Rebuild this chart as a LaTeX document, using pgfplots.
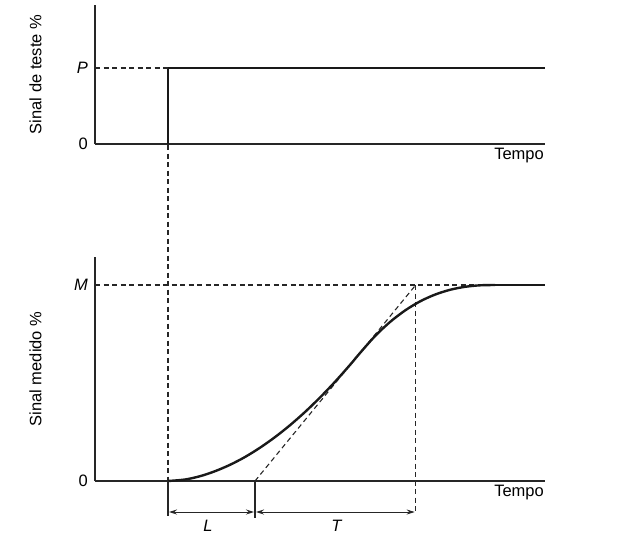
\documentclass[border=0pt]{standalone}
\usepackage{fontspec}
\setmainfont{Liberation Sans}
\usepackage{pgfplots}
\pgfplotsset{compat=1.18}
\usetikzlibrary{arrows.meta}

\begin{document}
\begin{tikzpicture}[font=\fontsize{16.5}{19}\selectfont]
\path (0,0) rectangle (617pt,-539pt);
\pgfplotsset{
  panel/.style={
    x=1pt, y=1pt,
    xmin=95, xmax=545, ymin=0,
    axis lines*=left,
    axis line style={line width=1.5pt, black!85},
    xtick=\empty,
    major tick length=0pt,
    clip=false,
    scale only axis,
    xlabel={Tempo},
    xlabel style={at={(axis description cs:1,0)}, anchor=north east, yshift=-3pt, inner sep=1pt},
    yticklabel style={inner sep=1pt, xshift=-6pt},
    ylabel style={anchor=center, at={(axis description cs:-0.132,0.5)}},
  },
  dsh/.style={black!85, line width=1.1pt, dash pattern=on 5pt off 3.5pt},
  sol/.style={black!90, line width=2.4pt},
  thin/.style={black!85, line width=1.3pt},
  arr/.style={black!85, line width=1pt, {Stealth[length=8pt,width=5pt]}-{Stealth[length=8pt,width=5pt]}},
}
% top panel: test signal
\begin{axis}[panel, at={(95pt,-144pt)}, anchor=south west, ymax=139,
  ytick={0,76}, yticklabels={0,\textit{P}},
  ylabel={Sinal de teste \%}]
\addplot[sol] coordinates {(168,0) (168,76) (545,76)};
\addplot[dsh] coordinates {(95,76) (168,76)};
\end{axis}
% bottom panel: measured signal
\begin{axis}[panel, at={(95pt,-481pt)}, anchor=south west, ymax=224,
  ytick={0,196}, yticklabels={0,\textit{M}},
  ylabel={Sinal medido \%}]
\addplot[dsh] coordinates {(95,196) (490,196)};
\addplot[dsh] coordinates {(168,336) (168,0)};
\addplot[dsh] coordinates {(415.7,196) (415.7,-33)};
\addplot[dsh] coordinates {(255,0) (415.7,196)};
\addplot[sol, smooth] coordinates {
 (168,0) (185,1.5) (200,4.8) (215,9.8) (230,16.2) (245,24.0) (260,33.3)
 (275,43.9) (290,55.8) (305,69.0) (320,83.5) (335,99.2) (350,116.1)
 (360,128) (375,144.9) (390,159) (405,170.5) (420,179.6) (435,186.4)
 (450,191.2) (465,194.2) (480,195.7) (495,196)};
\addplot[sol] coordinates {(495,196) (545,196)};
\addplot[thin] coordinates {(168,0) (168,-35)};
\addplot[thin] coordinates {(255,0) (255,-37)};
\addplot[arr] coordinates {(169,-31) (254,-31)};
\addplot[arr] coordinates {(256,-31) (414.7,-31)};
\node at (axis cs:208,-45) {\textit{L}};
\node at (axis cs:337,-45) {\textit{T}};
\end{axis}
\end{tikzpicture}
\end{document}
